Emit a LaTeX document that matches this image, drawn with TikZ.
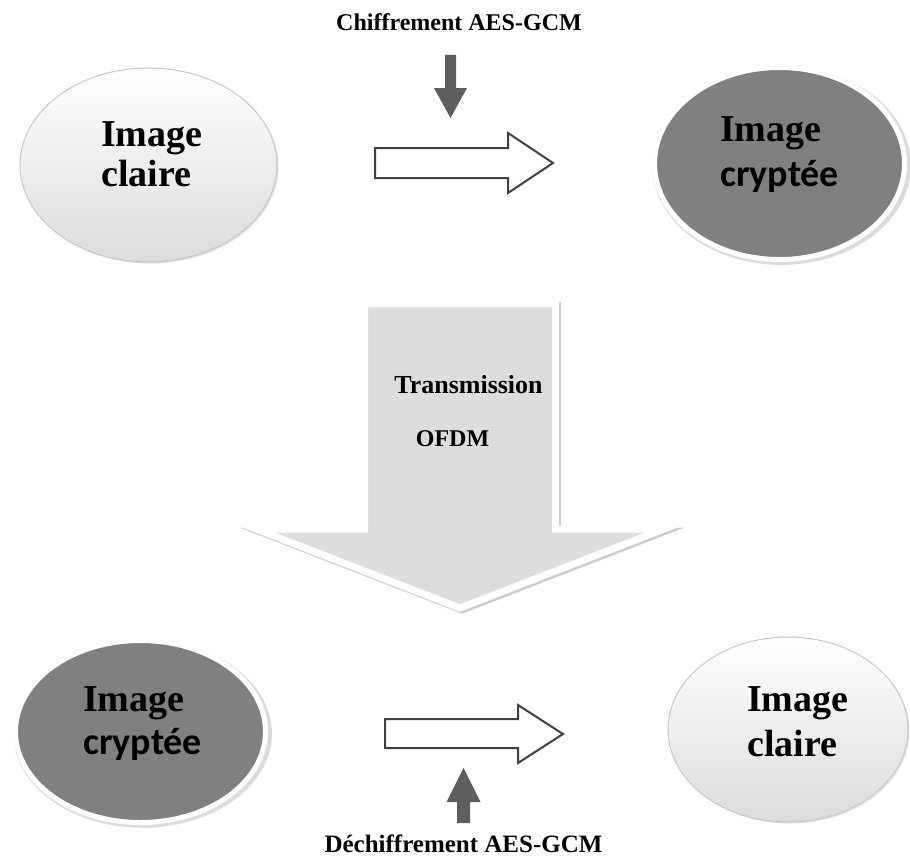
\documentclass[tikz,border=0pt]{standalone}
\usepackage{fontspec}
\setmainfont{Liberation Serif}
\newfontfamily\cryfont{Carlito}
\usetikzlibrary{shapes.geometric,shadows}

\definecolor{darkfill}{HTML}{808080}
\definecolor{lightbot}{HTML}{DCDCDC}
\definecolor{bigfill}{HTML}{DDDDDD}
\definecolor{outline}{HTML}{404040}
\definecolor{solidarrow}{HTML}{5E5E5E}

\tikzset{
  lightell/.style={ellipse, inner sep=0pt, draw=black!22, line width=1pt,
    top color=white, bottom color=lightbot,
    drop shadow={shadow xshift=1.5pt, shadow yshift=-1.5pt, fill=black!35, opacity=0.35}},
  darkell/.style={ellipse, inner sep=0pt, fill=darkfill, draw=white, line width=5pt,
    drop shadow={shadow xshift=2pt, shadow yshift=-2pt, shadow scale=1.035, fill=black!40, opacity=0.35}},
  etext/.style={inner sep=0pt, align=left, anchor=north west,
    font=\bfseries\fontsize{38}{40}\selectfont},
  lbl/.style={inner sep=0pt, anchor=base, font=\bfseries\fontsize{24}{28}\selectfont},
  hollowarrow/.style={draw=outline, line width=2pt, fill=white, line join=miter},
  solidarrowstyle/.style={fill=solidarrow},
  bigshadow/.style={draw=black!20, line width=7pt, shift={(2,2)}},
  bigbody/.style={draw=white, fill=bigfill, line width=7pt},
}

\def\transpath{(364.5,303.5) -- (555.5,303.5) -- (555.5,529) -- (664,529)
  -- (460,608) -- (256,529) -- (364.5,529) -- cycle}

\begin{document}
\begin{tikzpicture}[x=1pt,y=-1pt]
\useasboundingbox[fill=white] (0,0) rectangle (910,859);

% ---- ellipses ----
\node[lightell, minimum width=257, minimum height=194] (e1) at (148.5,165) {};
\node[darkell,  minimum width=250, minimum height=192] (e2) at (779.5,163.5) {};
\node[darkell,  minimum width=250, minimum height=182] (e3) at (140.5,731.5) {};
\node[lightell, minimum width=240, minimum height=185] (e4) at (788,729.5) {};

% ---- ellipse texts ----
\node[etext] (t1) at (101,121.5) {Image\\claire};
\node[etext, font=\bfseries\fontsize{38}{45}\selectfont] (t2) at (720,116.5)
  {Image\\{\cryfont\fontsize{38}{45}\selectfont cryptée}};
\node[etext, font=\bfseries\fontsize{38}{43}\selectfont] (t3) at (83,686.5)
  {Image\\{\cryfont\fontsize{38}{43}\selectfont cryptée}};
\node[etext, font=\bfseries\fontsize{38}{45}\selectfont] (t4) at (747,686.5) {Image\\claire};

% ---- top: encryption ----
\node[lbl] (enc) at (459,31) {Chiffrement AES-GCM};
\fill[solidarrowstyle] (445,55) -- (456,55) -- (456,88) -- (467,88) -- (450.5,118)
  -- (434,88) -- (445,88) -- cycle;
\draw[hollowarrow] (375,148) -- (508,148) -- (508,133) -- (553,163) -- (508,193)
  -- (508,178) -- (375,178) -- cycle;

% ---- middle: transmission ----
\draw[bigshadow] \transpath;
\draw[bigbody] \transpath;
\node[lbl, font=\bfseries\fontsize{26}{30}\selectfont] (tr) at (468.5,393) {Transmission};
\node[lbl] (ofdm) at (452.5,446) {OFDM};

% ---- bottom: decryption ----
\draw[hollowarrow] (385,719) -- (518,719) -- (518,705) -- (563,734) -- (518,763)
  -- (518,748) -- (385,748) -- cycle;
\fill[solidarrowstyle] (457,823) -- (470,823) -- (470,802) -- (480.5,802) -- (463.5,768)
  -- (446.5,802) -- (457,802) -- cycle;
\node[lbl, font=\bfseries\fontsize{25}{29}\selectfont] (dec) at (463.5,852) {Déchiffrement AES-GCM};
\end{tikzpicture}
\end{document}
